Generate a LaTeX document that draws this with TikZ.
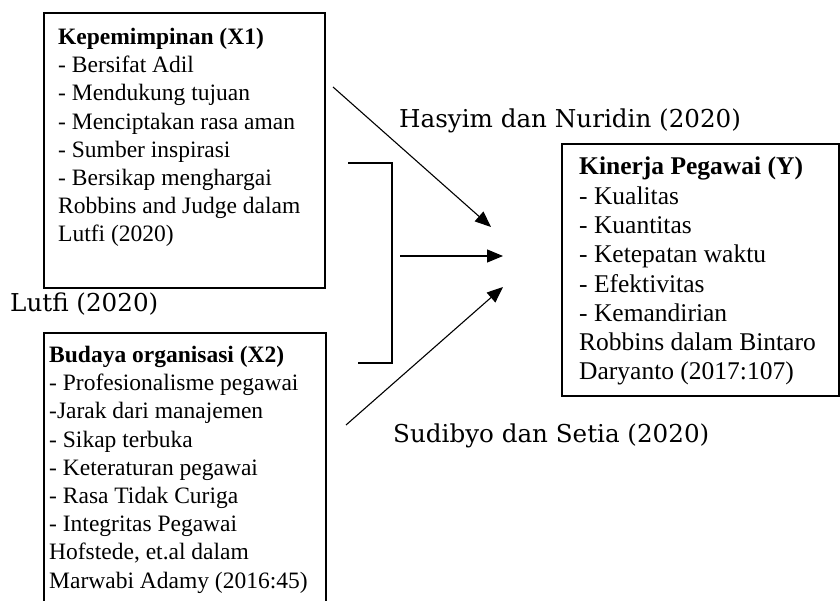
\documentclass[tikz,border=0pt]{standalone}
\usepackage{fontspec}
\setmainfont{Liberation Serif}
\newfontfamily\refsfont{DejaVu Serif}
\usetikzlibrary{arrows.meta,positioning}

\tikzset{
  varbox/.style={draw, line width=1.8pt, anchor=north west, inner sep=0pt},
  vartext/.style={anchor=north west, inner sep=0pt, align=left,
    font=\fontsize{23.5}{28.2}\selectfont},
  reflabel/.style={anchor=base west, inner sep=0pt,
    font=\refsfont\fontsize{24.6}{28}\selectfont},
  link/.style={line width=1.1pt, -{Triangle[length=16pt,width=13pt]}},
}

\begin{document}
\begin{tikzpicture}[x=1pt,y=-1pt]
  \clip (0,0) rectangle (840,601);
  % variabel X1
  \node[varbox, minimum width=281pt, minimum height=275pt] (x1) at (43,12) {};
  \node[vartext] (x1txt) at (58,28) {\textbf{Kepemimpinan (X1)}\\
    - Bersifat  Adil\\- Mendukung tujuan\\- Menciptakan rasa aman\\
    - Sumber inspirasi\\- Bersikap menghargai\\Robbins and Judge dalam\\
    Lutfi (2020)};
  % variabel X2
  \node[varbox, minimum width=282pt, minimum height=290pt] (x2) at (43,332) {};
  \node[vartext] (x2txt) at (49,346) {\textbf{Budaya organisasi (X2)}\\
    - Profesionalisme pegawai\\-Jarak dari manajemen\\- Sikap terbuka\\
    - Keteraturan pegawai\\- Rasa Tidak Curiga\\- Integritas Pegawai\\
    Hofstede, et.al dalam\\Marwabi Adamy (2016:45)};
  % variabel Y
  \node[varbox, minimum width=277pt, minimum height=252pt] (y) at (561,143) {};
  \node[vartext, font=\fontsize{25.5}{29.3}\selectfont] (ytxt) at (579,157)
    {\textbf{Kinerja Pegawai (Y)}\\- Kualitas\\- Kuantitas\\- Ketepatan waktu\\
    - Efektivitas\\- Kemandirian\\Robbins dalam Bintaro\\Daryanto (2017:107)};

  % sumber
  \node[reflabel] (hasyim) at (399,128) {Hasyim dan Nuridin (2020)};
  \node[reflabel] (lutfi) at (10,312) {Lutfi (2020)};
  \node[reflabel] (sudibyo) at (393,442) {Sudibyo dan Setia (2020)};

  % kurung X1 dan X2
  \coordinate (brtop) at (348,163);
  \coordinate (brmid) at (392,263);
  \coordinate (brbot) at (358,363);
  \draw[line width=1.1pt] (brtop) -| (brmid) |- (brbot);

  % panah
  \coordinate (topstart) at (333,87);
  \coordinate (topend) at (491,227);
  \coordinate (midstart) at (400,256);
  \coordinate (midend) at (503,256);
  \coordinate (botstart) at (346,425);
  \coordinate (botend) at (503,287);
  \draw[link] (topstart) -- (topend);
  \draw[link] (midstart) -- (midend);
  \draw[link] (botstart) -- (botend);
\end{tikzpicture}
\end{document}
